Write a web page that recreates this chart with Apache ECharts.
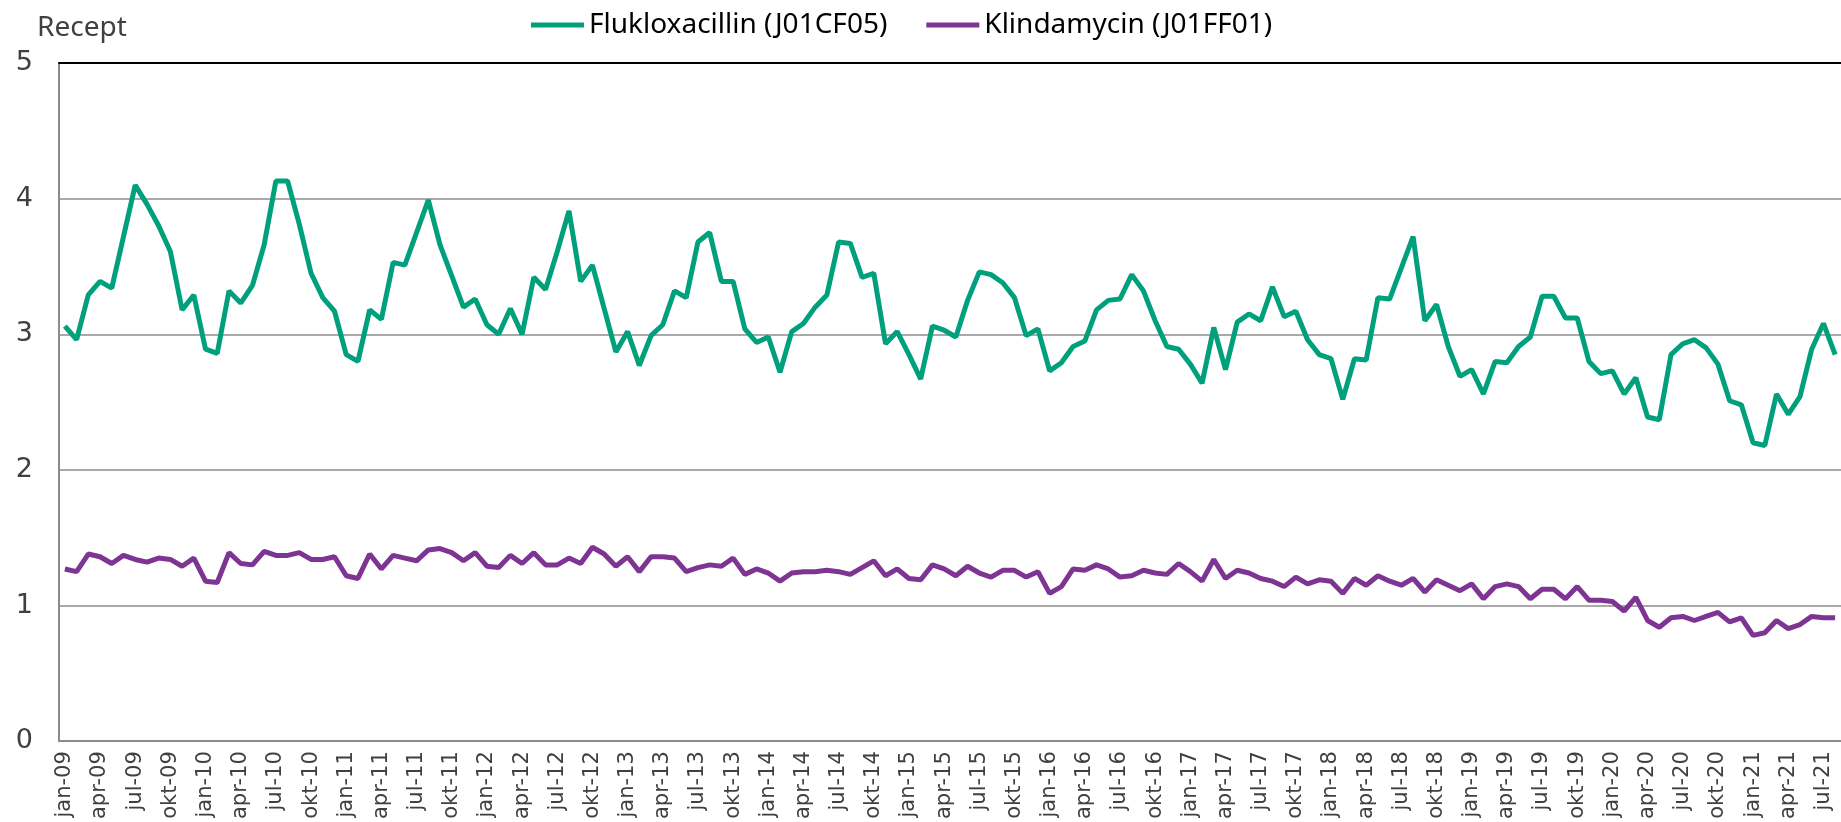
<!DOCTYPE html>
<html>
<head>
<meta charset="utf-8">
<script src="https://cdn.jsdelivr.net/npm/echarts@6/dist/echarts.min.js"></script>
<style>
  html, body { margin: 0; padding: 0; background: #fff; }
  #chart { width: 1841px; height: 822px; }
</style>
</head>
<body>
<div id="chart"></div>
<script>
// months jan-09 .. aug-21
var monthNames = ['jan', 'feb', 'mar', 'apr', 'maj', 'jun', 'jul', 'aug', 'sep', 'okt', 'nov', 'dec'];
var months = [];
for (var y = 9; y <= 21; y++) {
  for (var m = 0; m < 12; m++) {
    if (y === 21 && m > 7) break;
    months.push(monthNames[m] + '-' + (y < 10 ? '0' + y : y));
  }
}

var flukloxacillin = [
  3.06, 2.96, 3.29, 3.39, 3.34, 3.72, 4.10, 3.96, 3.80, 3.61, 3.18, 3.29,
  2.89, 2.86, 3.32, 3.23, 3.36, 3.66, 4.13, 4.13, 3.81, 3.45, 3.27, 3.17,
  2.85, 2.80, 3.18, 3.11, 3.53, 3.51, 3.75, 3.99, 3.66, 3.43, 3.20, 3.26,
  3.07, 3.00, 3.19, 3.00, 3.42, 3.33, 3.61, 3.91, 3.39, 3.51, 3.19, 2.87,
  3.02, 2.77, 2.99, 3.07, 3.32, 3.27, 3.68, 3.75, 3.39, 3.39, 3.04, 2.94,
  2.98, 2.72, 3.02, 3.08, 3.20, 3.29, 3.68, 3.67, 3.42, 3.45, 2.93, 3.02,
  2.85, 2.67, 3.06, 3.03, 2.98, 3.25, 3.46, 3.44, 3.38, 3.27, 2.99, 3.04,
  2.73, 2.79, 2.91, 2.95, 3.18, 3.25, 3.26, 3.44, 3.32, 3.10, 2.91, 2.89,
  2.78, 2.64, 3.05, 2.74, 3.09, 3.15, 3.10, 3.35, 3.13, 3.17, 2.96, 2.85,
  2.82, 2.52, 2.82, 2.81, 3.27, 3.26, 3.49, 3.72, 3.10, 3.22, 2.91, 2.69,
  2.74, 2.56, 2.80, 2.79, 2.91, 2.98, 3.28, 3.28, 3.12, 3.12, 2.80, 2.71,
  2.73, 2.56, 2.68, 2.39, 2.37, 2.85, 2.93, 2.96, 2.90, 2.78, 2.51, 2.48,
  2.20, 2.18, 2.56, 2.41, 2.54, 2.89, 3.08, 2.85
];

var klindamycin = [
  1.27, 1.25, 1.38, 1.36, 1.31, 1.37, 1.34, 1.32, 1.35, 1.34, 1.29, 1.35,
  1.18, 1.17, 1.39, 1.31, 1.30, 1.40, 1.37, 1.37, 1.39, 1.34, 1.34, 1.36,
  1.22, 1.20, 1.38, 1.27, 1.37, 1.35, 1.33, 1.41, 1.42, 1.39, 1.33, 1.39,
  1.29, 1.28, 1.37, 1.31, 1.39, 1.30, 1.30, 1.35, 1.31, 1.43, 1.38, 1.29,
  1.36, 1.25, 1.36, 1.36, 1.35, 1.25, 1.28, 1.30, 1.29, 1.35, 1.23, 1.27,
  1.24, 1.18, 1.24, 1.25, 1.25, 1.26, 1.25, 1.23, 1.28, 1.33, 1.22, 1.27,
  1.20, 1.19, 1.30, 1.27, 1.22, 1.29, 1.24, 1.21, 1.26, 1.26, 1.21, 1.25,
  1.09, 1.14, 1.27, 1.26, 1.30, 1.27, 1.21, 1.22, 1.26, 1.24, 1.23, 1.31,
  1.25, 1.18, 1.34, 1.20, 1.26, 1.24, 1.20, 1.18, 1.14, 1.21, 1.16, 1.19,
  1.18, 1.09, 1.20, 1.15, 1.22, 1.18, 1.15, 1.20, 1.10, 1.19, 1.15, 1.11,
  1.16, 1.05, 1.14, 1.16, 1.14, 1.05, 1.12, 1.12, 1.05, 1.14, 1.04, 1.04,
  1.03, 0.96, 1.06, 0.89, 0.84, 0.91, 0.92, 0.89, 0.92, 0.95, 0.88, 0.91,
  0.78, 0.80, 0.89, 0.83, 0.86, 0.92, 0.91, 0.91
];

var yTicks = [0, 1, 2, 3, 4, 5];

var chart = echarts.init(document.getElementById('chart'));

chart.setOption({
  animation: false,
  title: {
    text: 'Recept',
    left: 37,
    top: 14,
    padding: 0,
    textStyle: { fontFamily: 'Noto Sans', fontSize: 28, fontWeight: 'normal', color: '#404040' }
  },
  legend: {
    left: 531,
    top: 11,
    padding: 0,
    icon: 'rect',
    itemWidth: 53,
    itemHeight: 5,
    itemGap: 39,
    textStyle: { fontFamily: 'Noto Sans', fontSize: 28, color: '#000' },
    data: ['Flukloxacillin (J01CF05)', 'Klindamycin (J01FF01)']
  },
  grid: {
    left: 59,
    top: 63,
    width: months.length * 11.77,
    bottom: 80
  },
  xAxis: [{
    type: 'category',
    data: months,
    boundaryGap: true,
    axisLine: { lineStyle: { color: '#8c8c8c', width: 2 } },
    axisTick: { show: false },
    axisLabel: {
      interval: 2,
      rotate: 90,
      margin: 10,
      fontFamily: 'DejaVu Sans',
      fontSize: 21,
      color: '#404040'
    }
  }, {
    type: 'category',
    data: months,
    position: 'top',
    axisLine: { lineStyle: { color: '#000', width: 2 } },
    axisTick: { show: false },
    axisLabel: { show: false }
  }],
  yAxis: {
    type: 'value',
    min: yTicks[0],
    max: yTicks[yTicks.length - 1],
    interval: 1,
    axisLine: { show: true, lineStyle: { color: '#8c8c8c', width: 2 } },
    axisTick: { show: false },
    splitLine: { lineStyle: { color: '#8c8c8c', width: 1.5 } },
    axisLabel: {
      margin: 26,
      fontFamily: 'DejaVu Sans',
      fontSize: 27,
      color: '#404040'
    }
  },
  series: [{
    name: 'Flukloxacillin (J01CF05)',
    type: 'line',
    data: flukloxacillin,
    symbol: 'none',
    color: '#00a07c',
    lineStyle: { width: 5, color: '#00a07c' }
  }, {
    name: 'Klindamycin (J01FF01)',
    type: 'line',
    data: klindamycin,
    symbol: 'none',
    color: '#7d3493',
    lineStyle: { width: 5, color: '#7d3493' }
  }]
});
</script>
</body>
</html>
